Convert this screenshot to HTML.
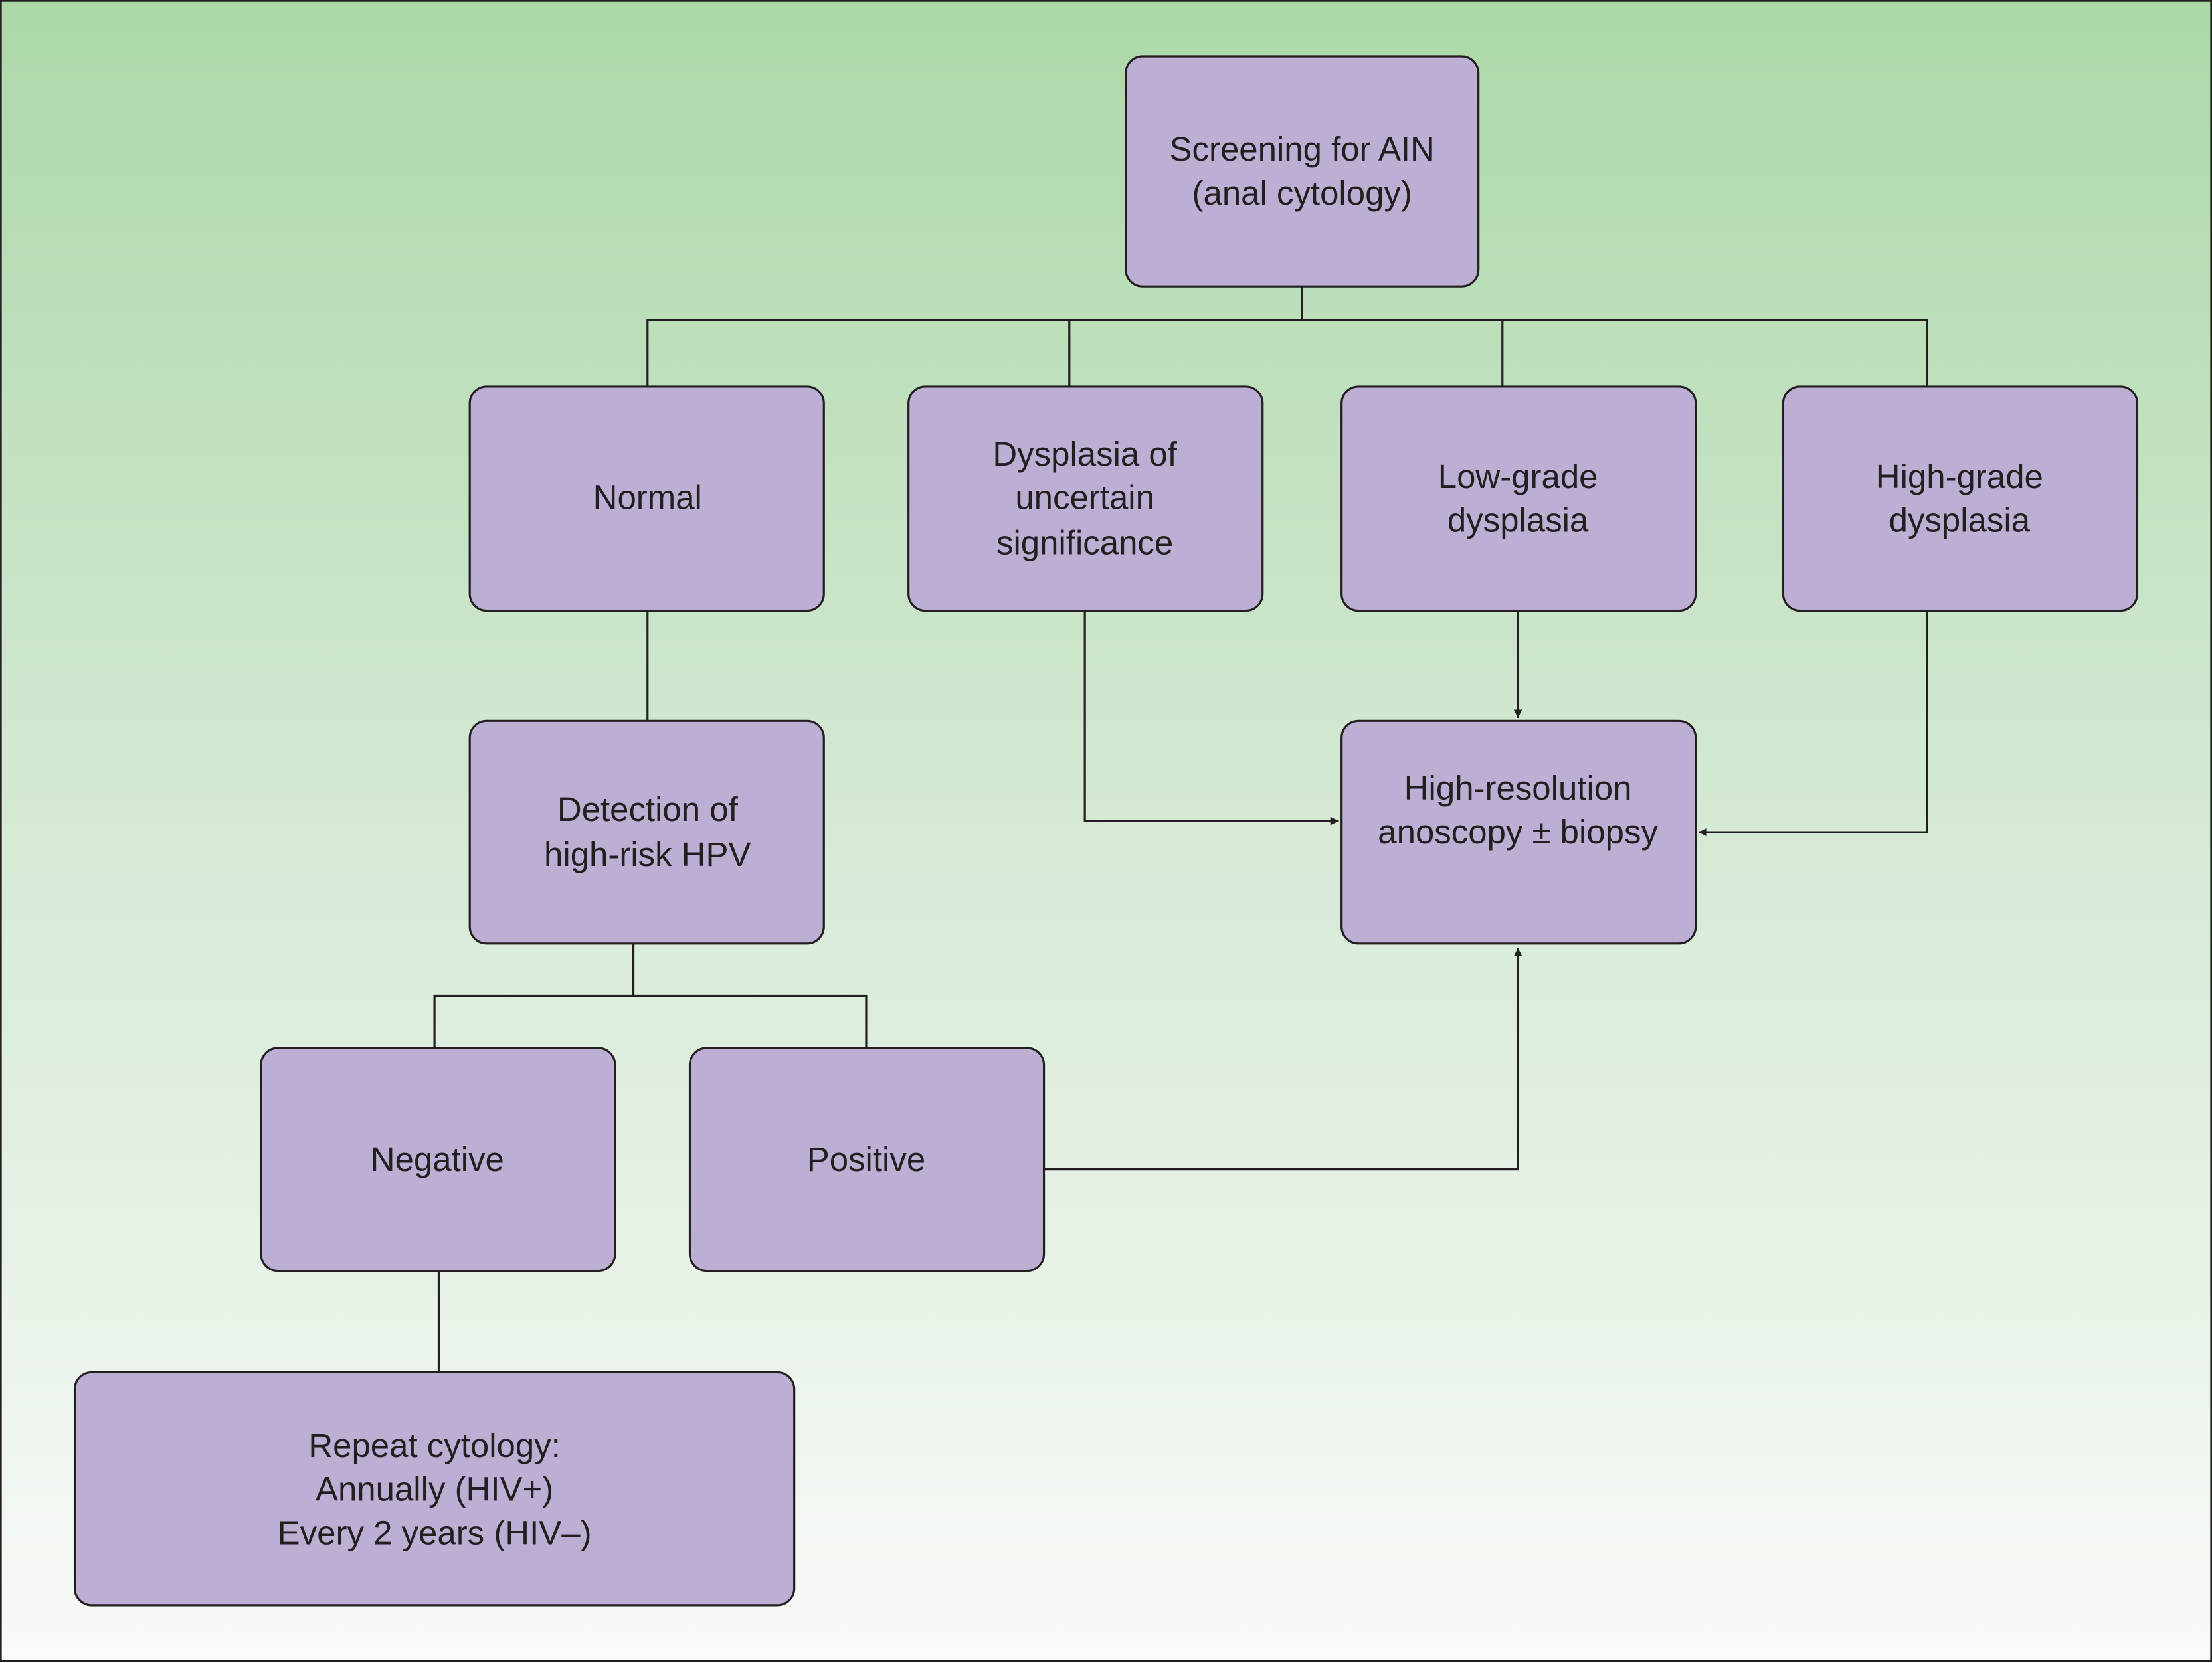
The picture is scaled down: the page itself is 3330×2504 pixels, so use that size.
<!DOCTYPE html>
<html><head><meta charset="utf-8"><style>
html,body{margin:0;padding:0;background:#fff}
svg{display:block}
text{font-family:"Liberation Sans",sans-serif;font-size:24px;fill:#231f20;text-anchor:middle}
</style></head><body>
<svg width="3330" height="2504" viewBox="0 0 1568 1179" xmlns="http://www.w3.org/2000/svg">
<defs>
<linearGradient id="g" x1="0" y1="0" x2="0" y2="1">
<stop offset="0" stop-color="#acd8a8"/>
<stop offset="0.5" stop-color="#d5e9d5"/>
<stop offset="1" stop-color="#f8fbf7"/>
</linearGradient>
<marker id="a" viewBox="0 0 10 10" refX="10" refY="5" markerWidth="6" markerHeight="6" markerUnits="userSpaceOnUse" orient="auto">
<path d="M0,0L10,5L0,10z" fill="#231f20"/></marker>
</defs>
<rect x="0.5" y="0.5" width="1567" height="1177" fill="url(#g)" stroke="#231f20" stroke-width="1.5"/>
<g fill="none" stroke="#231f20" stroke-width="1.5">
<path d="M923 203V227M459 274V227H1366V274M758 227V274M1065 227V274"/>
<path d="M459 433V511"/>
<path d="M449 669V706M308 743V706H614V743"/>
<path d="M311 901V973"/>
<path d="M740 829H1076V672" marker-end="url(#a)"/>
<path d="M769 433V582H949" marker-end="url(#a)"/>
<path d="M1076 433V509" marker-end="url(#a)"/>
<path d="M1366 433V590H1204" marker-end="url(#a)"/>
</g>
<g fill="#bdaed3" stroke="#231f20" stroke-width="1.5">
<rect x="798" y="40" width="250" height="163" rx="12"/>
<rect x="333" y="274" width="251" height="159" rx="12"/>
<rect x="644" y="274" width="251" height="159" rx="12"/>
<rect x="951" y="274" width="251" height="159" rx="12"/>
<rect x="1264" y="274" width="251" height="159" rx="12"/>
<rect x="333" y="511" width="251" height="158" rx="12"/>
<rect x="951" y="511" width="251" height="158" rx="12"/>
<rect x="185" y="743" width="251" height="158" rx="12"/>
<rect x="489" y="743" width="251" height="158" rx="12"/>
<rect x="53" y="973" width="510" height="165" rx="12"/>
</g>
<text x="923" y="114">Screening for AIN</text>
<text x="923" y="145">(anal cytology)</text>
<text x="459" y="361">Normal</text>
<text x="769" y="330">Dysplasia of</text>
<text x="769" y="361">uncertain</text>
<text x="769" y="393">significance</text>
<text x="1076" y="346">Low-grade</text>
<text x="1076" y="377">dysplasia</text>
<text x="1389" y="346">High-grade</text>
<text x="1389" y="377">dysplasia</text>
<text x="459" y="582">Detection of</text>
<text x="459" y="614">high-risk HPV</text>
<text x="1076" y="567">High-resolution</text>
<text x="1076" y="598">anoscopy ± biopsy</text>
<text x="310" y="830">Negative</text>
<text x="614" y="830">Positive</text>
<text x="308" y="1033">Repeat cytology:</text>
<text x="308" y="1064">Annually (HIV+)</text>
<text x="308" y="1095">Every 2 years (HIV–)</text>
</svg>
</body></html>
